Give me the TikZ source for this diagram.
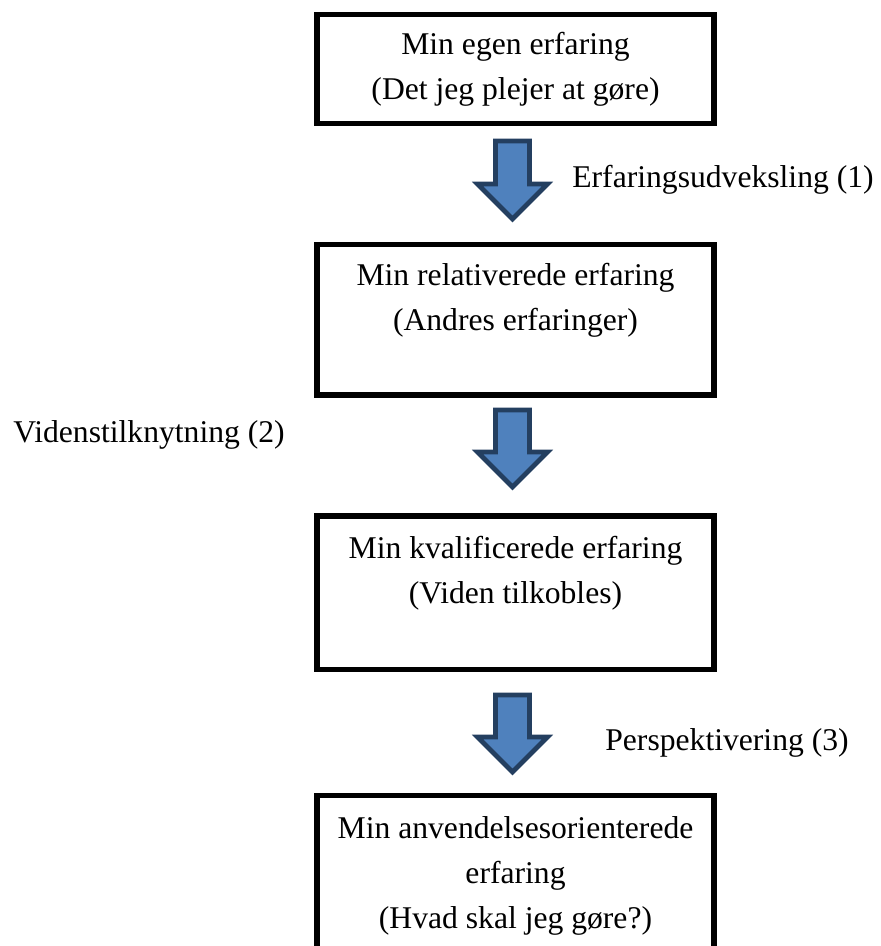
\documentclass[tikz,border=0pt]{standalone}
\usepackage{fontspec}
\setmainfont{Liberation Serif}
\usetikzlibrary{calc}
\definecolor{arrowfill}{HTML}{4F81BD}
\definecolor{arrowline}{HTML}{243F60}

\begin{document}
\begin{tikzpicture}[
        stepbox/.style={draw=black,line width=3.1pt,minimum width=7.94cm,
            align=center,inner sep=0pt,font=\fontsize{18}{25.6}\selectfont},
        steplabel/.style={anchor=base west,inner sep=0pt,font=\fontsize{18}{25.6}\selectfont},
        blockarrow/.style={fill=arrowfill,draw=arrowline,line width=2.7pt,line join=miter}]
            \useasboundingbox (0,0) rectangle (17.6,-18.92);
            \clip (0,0) rectangle (17.6,-18.92);
            % boxes
            \node[stepbox,minimum height=2.18cm] (egen) at (10.31,-1.38)
                {Min egen erfaring\\(Det jeg plejer at gøre)};
            \node[stepbox,minimum height=3.01cm] (relativ) at (10.31,-6.395)
                {Min relativerede erfaring\\(Andres erfaringer)\\\mbox{}};
            \node[stepbox,minimum height=3.07cm] (kvalif) at (10.31,-11.855)
                {Min kvalificerede erfaring\\(Viden tilkobles)\\\mbox{}};
            \node[stepbox,minimum height=4cm,anchor=north] (anvend) at (10.31,-15.85)
                {Min anvendelsesorienterede\\erfaring\\(Hvad skal jeg gøre?)\\\mbox{}};
            % block arrows
            \coordinate (s1) at (10.25,-2.82);  \coordinate (t1) at (10.25,-4.38);
            \coordinate (s2) at (10.25,-8.20);  \coordinate (t2) at (10.25,-9.74);
            \coordinate (s3) at (10.25,-13.90); \coordinate (t3) at (10.25,-15.44);
            \foreach \s/\t in {s1/t1,s2/t2,s3/t3}
                \draw[blockarrow] ($(\s)+(-0.34,0)$) -- ($(\s)+(0.34,0)$) -- ($(\t)+(0.34,0.7)$)
                    -- ($(\t)+(0.7,0.7)$) -- (\t) -- ($(\t)+(-0.7,0.7)$) -- ($(\t)+(-0.34,0.7)$) -- cycle;
            % labels
            \node[steplabel] (udveks) at (11.44,-3.76) {Erfaringsudveksling (1)};
            \node[steplabel] (viden) at (0.26,-8.84) {Videnstilknytning (2)};
            \node[steplabel] (persp) at (12.1,-15.0) {Perspektivering (3)};
        \end{tikzpicture}
\end{document}
